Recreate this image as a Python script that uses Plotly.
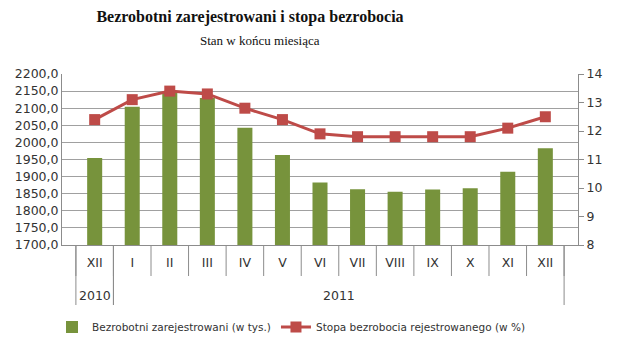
import plotly.graph_objects as go

categories = ["XII 2010", "I 2011", "II 2011", "III 2011", "IV 2011", "V 2011", "VI 2011",
              "VII 2011", "VIII 2011", "IX 2011", "X 2011", "XI 2011", "XII 2011"]
months = ["XII", "I", "II", "III", "IV", "V", "VI", "VII", "VIII", "IX", "X", "XI", "XII"]
year_groups = [("2010", 0, 0), ("2011", 1, 12)]
unemployed = [1954.7, 2104.0, 2148.0, 2130.0, 2043.0, 1962.9, 1883.0, 1862.8, 1856.0, 1862.0, 1866.0, 1914.0, 1982.7]
rate = [12.4, 13.1, 13.4, 13.3, 12.8, 12.4, 11.9, 11.8, 11.8, 11.8, 11.8, 12.1, 12.5]

tick_font = dict(family="DejaVu Sans", size=12.5, color="#333333")
axis_gray = "#8c8c8c"
plot_h = 171

fig = go.Figure()
fig.add_trace(go.Bar(
    x=categories, y=unemployed, name="Bezrobotni zarejestrowani (w tys.)",
    marker=dict(color="#77933C", line=dict(width=0)), yaxis="y",
))
fig.add_trace(go.Scatter(
    x=categories, y=rate, name="Stopa bezrobocia rejestrowanego (w %)",
    mode="lines+markers", line=dict(color="#BE4B48", width=3),
    marker=dict(symbol="square", size=11, color="#BE4B48"), yaxis="y2",
))

shapes = []
# month separators
for i in range(len(categories) + 1):
    shapes.append(dict(type="line", xref="x", yref="paper", x0=i - 0.5, x1=i - 0.5,
                       y0=0, y1=-31 / plot_h, line=dict(color=axis_gray, width=1)))
# year dividers
annotations = []
for name, a, b in year_groups:
    for edge in (a - 0.5, b + 0.5):
        shapes.append(dict(type="line", xref="x", yref="paper", x0=edge, x1=edge,
                           y0=0, y1=-60 / plot_h, line=dict(color=axis_gray, width=1)))
    annotations.append(dict(text=name, xref="x", yref="paper", x=(a + b) / 2,
                            y=-50 / plot_h, xanchor="center", yanchor="middle",
                            showarrow=False, font=tick_font))

annotations.append(dict(
    text="Stan w końcu miesiąca", xref="paper", yref="paper",
    x=(260 - 62) / 516, y=1 + (74 - 40) / plot_h, xanchor="center", yanchor="middle",
    showarrow=False, font=dict(family="Liberation Serif", size=13, color="#111111"),
))

fig.update_layout(
    width=625, height=350,
    margin=dict(l=62, r=47, t=74, b=105),
    paper_bgcolor="white", plot_bgcolor="white",
    separators=",.",
    bargap=0.6,
    showlegend=True,
    title=dict(
        text="Bezrobotni zarejestrowani i stopa bezrobocia",
        font=dict(family="Liberation Serif", size=16, color="#111111", weight="bold"),
        x=0.4, xref="container", xanchor="center",
        y=1 - 16 / 350, yref="container", yanchor="middle",
    ),
    annotations=annotations,
    shapes=shapes,
    legend=dict(
        orientation="h", x=52 / 625, xref="container", xanchor="left",
        y=1 - 327 / 350, yref="container", yanchor="middle",
        font=dict(family="DejaVu Sans", size=10.5, color="#333333"),
        itemwidth=30, tracegroupgap=0,
    ),
    xaxis=dict(
        type="category", categoryorder="array", categoryarray=categories,
        tickvals=categories, ticktext=months,
        showline=True, linecolor=axis_gray, linewidth=1, ticks="",
        ticklabelstandoff=6,
        tickfont=tick_font, showgrid=False,
    ),
    yaxis=dict(
        range=[1700, 2200], dtick=50, tickformat=".1f", showgrid=True,
        gridcolor="#a0a0a0", gridwidth=1, showline=True, linecolor=axis_gray,
        tickfont=tick_font, ticks="", zeroline=False,
    ),
    yaxis2=dict(
        range=[8, 14], dtick=1, overlaying="y", side="right", showgrid=False,
        showline=True, linecolor=axis_gray, ticks="outside", ticklen=5,
        tickcolor=axis_gray, tickfont=tick_font, zeroline=False,
    ),
)

fig.write_html("out.html")
